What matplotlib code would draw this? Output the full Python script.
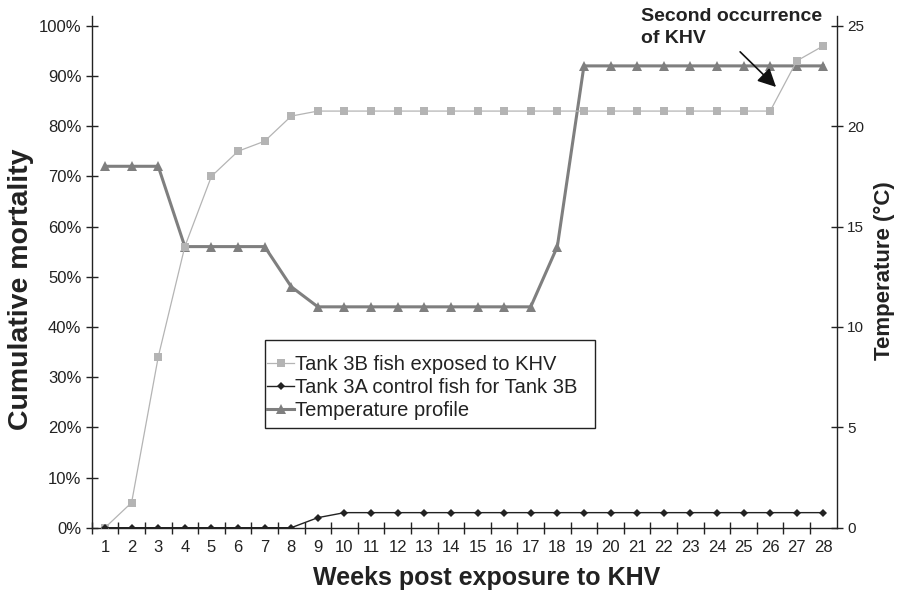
import matplotlib
matplotlib.use("Agg")
import matplotlib.pyplot as plt
from matplotlib.ticker import FuncFormatter
from matplotlib.patches import Rectangle

plt.rcParams['font.family'] = ['Liberation Sans', 'DejaVu Sans']

weeks = list(range(1, 29))
tank3b = [0, 5, 34, 56, 70, 75, 77, 82, 83, 83, 83, 83, 83, 83, 83, 83, 83, 83,
          83, 83, 83, 83, 83, 83, 83, 83, 93, 96]
tank3a = [0, 0, 0, 0, 0, 0, 0, 0, 2, 3, 3, 3, 3, 3, 3, 3, 3, 3,
          3, 3, 3, 3, 3, 3, 3, 3, 3, 3]
temperature = [18, 18, 18, 14, 14, 14, 14, 12, 11, 11, 11, 11, 11, 11, 11, 11, 11, 14,
               23, 23, 23, 23, 23, 23, 23, 23, 23, 23]
left_ticks = [0, 10, 20, 30, 40, 50, 60, 70, 80, 90, 100]
right_ticks = [0, 5, 10, 15, 20, 25]

W, H = 899, 592
fig = plt.figure(figsize=(W/100, H/100), dpi=100)
ax = fig.add_axes([91.7/W, 1-527.7/H, (836.7-91.7)/W, (527.7-15.7)/H])
ax2 = ax.twinx()

l3b, = ax.plot(weeks, tank3b, color='#b4b4b4', lw=0.9, marker='s', ms=5.5,
               markeredgewidth=0, label='Tank 3B fish exposed to KHV', zorder=3)
l3a, = ax.plot(weeks, tank3a, color='#222222', lw=1.0, marker='D', ms=4.2,
               markeredgewidth=0, label='Tank 3A control fish for Tank 3B', zorder=3)
lt, = ax2.plot(weeks, temperature, color='#7f7f7f', lw=2.2, marker='^', ms=6.5,
               markeredgewidth=0, label='Temperature profile', zorder=2)

ax.set_xlim(0.5, 28.5)
ax.set_ylim(0, 102)
ax2.set_ylim(0, 25.5)

ax.set_xticks([w + 0.5 for w in weeks[:-1]] + [0.5])
ax.set_xticklabels([])
ax.set_xticks(weeks, minor=True)
ax.set_xticklabels([str(w) for w in weeks], minor=True)
ax.tick_params(axis='x', which='major', direction='inout', length=9, width=1, color='#222222')
ax.tick_params(axis='x', which='minor', length=0, pad=9, labelsize=12, labelcolor='#222222')

ax.set_yticks(left_ticks)
ax.yaxis.set_major_formatter(FuncFormatter(lambda v, p: f"{int(v)}%"))
ax.tick_params(axis='y', direction='inout', length=9, width=1, color='#222222',
               labelsize=12, labelcolor='#222222', pad=3)
ax2.set_yticks(right_ticks)
ax2.tick_params(axis='y', direction='inout', length=9, width=1, color='#222222',
                labelsize=11, labelcolor='#222222', pad=3)

for a in (ax, ax2):
    a.spines['top'].set_visible(False)
    for s in ('left', 'right', 'bottom'):
        a.spines[s].set_linewidth(1.0)
        a.spines[s].set_color('#222222')
ax.spines['right'].set_visible(False)
ax2.spines['left'].set_visible(False)
ax2.spines['bottom'].set_visible(False)
ax.set_zorder(ax2.get_zorder() + 1)
ax.patch.set_visible(False)

fig.text(21.5/W, 1-289/H, 'Cumulative mortality', rotation=90, fontsize=20.5,
         fontweight='bold', ha='center', va='center', color='#222222')
fig.text(884/W, 1-270.5/H, 'Temperature (°C)', rotation=90, fontsize=16,
         fontweight='bold', ha='center', va='center', color='#222222')
fig.text(487/W, 1-578/H, 'Weeks post exposure to KHV', fontsize=18,
         fontweight='bold', ha='center', va='center', color='#222222')

fig.text(641/W, 1-8/H, 'Second occurrence\nof KHV', fontsize=14,
         fontweight='bold', ha='left', va='top', color='#222222', linespacing=1.42)
ax.annotate('', xy=(26.22, 87.8), xytext=(24.87, 94.8), annotation_clip=False,
            arrowprops=dict(arrowstyle='-|>,head_length=1.1,head_width=0.55',
                            color='#111111', lw=1.2, shrinkA=0, shrinkB=0))

leg = fig.legend(handles=[l3b, l3a, lt], loc='upper left',
                 bbox_to_anchor=(267/W, 1-355/H), fontsize=14.5, frameon=False,
                 handlelength=1.35, handletextpad=0.05, labelspacing=0.21,
                 borderpad=0, borderaxespad=0)
for t in leg.get_texts():
    t.set_color('#222222')
fig.patches.append(Rectangle((265/W, 1-428/H), 330/W, 88/H, transform=fig.transFigure,
                             fill=False, edgecolor='#222222', lw=1.0))

fig.savefig('out.png', dpi=100)
